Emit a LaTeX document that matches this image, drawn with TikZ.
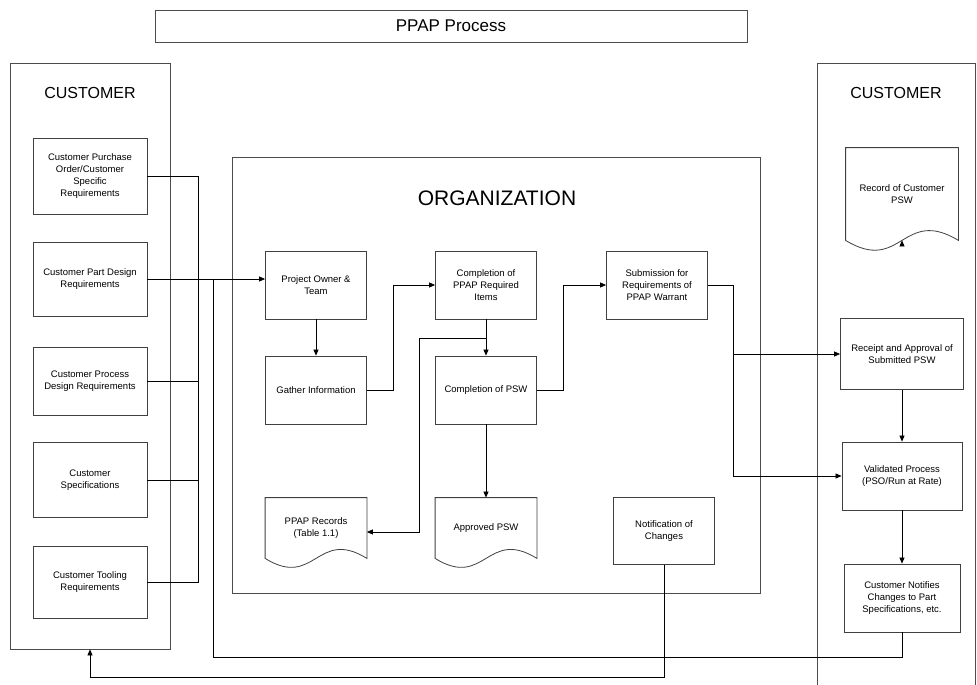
\documentclass[tikz,border=0pt]{standalone}
\usepackage{fontspec}
\setmainfont{Liberation Sans}
\usetikzlibrary{arrows.meta, calc}

\begin{document}
\begin{tikzpicture}[
    x=1pt, y=-1pt,
    box/.style={draw=black!75, line width=0.8pt, fill=white, align=center, inner sep=2pt,
                font=\fontsize{9.5}{12}\selectfont},
    smallbox/.style={box, minimum width=101pt, minimum height=68pt},
    custbox/.style={box, minimum width=114pt, minimum height=72pt},
    docbox/.style={box, draw=none, fill=none, minimum width=101pt, minimum height=60pt},
    docline/.style={draw=black!75, line width=0.8pt},
    frame/.style={draw=black!70, line width=0.8pt},
    heading/.style={font=\fontsize{16}{16}\selectfont},
    link/.style={line width=0.7pt},
    arrowstyle/.style={link, -{Triangle[length=6pt, width=5pt]}},
]
    \useasboundingbox (0,0) rectangle (977,685);
    \clip (0,0) rectangle (977,685);

    % Outer frames
    \node[frame, minimum width=592pt, minimum height=32pt, font=\fontsize{17}{17}\selectfont] (title) at (451,26) {PPAP Process};
    \node[frame, minimum width=160pt, minimum height=586pt] (custL) at (90,356) {};
    \node[frame, minimum width=158pt, minimum height=640pt, anchor=north west] (custR) at (817,63) {};
    \node[frame, minimum width=528pt, minimum height=436pt] (org) at (496,375) {};

    \node[heading] (custLabL) at (90,93) {CUSTOMER};
    \node[heading] (custLabR) at (896,93) {CUSTOMER};
    \node[font=\fontsize{21}{21}\selectfont] (orgLab) at (497,198) {ORGANIZATION};

    % Customer inputs
    \node[custbox, minimum height=76pt] (purchase) at (90,176) {Customer Purchase\\Order/Customer\\Specific\\Requirements};
    \node[custbox, minimum height=74pt] (partDesign) at (90,279) {Customer Part Design\\Requirements};
    \node[custbox, minimum height=68pt] (procDesign) at (90,381) {Customer Process\\Design Requirements};
    \node[custbox, minimum height=75pt] (specs) at (90,480) {Customer\\Specifications};
    \node[custbox] (tooling) at (90,582) {Customer Tooling\\Requirements};

    % Organization steps
    \node[smallbox] (owner) at (316,285) {Project Owner \&\\Team};
    \node[smallbox] (gather) at (316,390) {Gather Information};
    \node[smallbox] (items) at (486,285) {Completion of\\PPAP Required\\Items};
    \node[smallbox] (psw) at (486,390) {Completion of PSW};
    \node[smallbox] (submit) at (657,285) {Submission for\\Requirements of\\PPAP Warrant};
    \node[docbox] (records) at (316,528) {PPAP Records\\(Table 1.1)};
    \node[docbox] (approved) at (486,528) {Approved PSW};
    \node[smallbox, minimum height=67pt] (changes) at (664,531) {Notification of\\Changes};

    % Customer side steps
    \node[docbox, minimum width=112pt, minimum height=92pt] (record) at (902,194) {Record of Customer\\PSW};
    \node[box, minimum width=123pt, minimum height=71pt] (receipt) at (902,354) {Receipt and Approval of\\Submitted PSW};
    \node[box, minimum width=120pt, minimum height=68pt] (validated) at (902,476) {Validated Process\\(PSO/Run at Rate)};
    \node[box, minimum width=116pt, minimum height=68pt] (notify) at (902,598) {Customer Notifies\\Changes to Part\\Specifications, etc.};

    % Document outlines with wavy bottom
    \foreach \d/\hw/\dip in {records/50/31, approved/50/31, record/56/34}
        \draw[docline] (\d.north west) -- (\d.north east) -- (\d.south east)
            .. controls +(-\hw,-\dip) and +(\hw,\dip) .. (\d.south west) -- cycle;

    % Customer inputs to the project owner
    \coordinate (busL) at (198,0);
    \draw[link] (purchase.east) -- (purchase.east -| busL) -- (tooling.east -| busL) -- (tooling.east);
    \draw[link] (procDesign.east) -- (procDesign.east -| busL);
    \draw[link] (specs.east) -- (specs.east -| busL);
    \draw[arrowstyle] (partDesign.east) -- (partDesign.east -| owner.west);

    % Changes fed back
    \coordinate (fbL) at (213,657);
    \draw[link] (notify.south) |- (fbL) -- (fbL |- partDesign.east);
    \coordinate (ret) at (90,677);
    \draw[arrowstyle] (changes.south) |- (ret) -- (custL.south);

    % Inside the organization
    \draw[arrowstyle] (owner) -- (gather);
    \draw[arrowstyle] (gather.east) -- ++(26,0) |- (items.west);
    \draw[arrowstyle] (items) -- (psw);
    \coordinate (split) at ([yshift=-19pt]items.south);
    \draw[arrowstyle] (split) -- ++(-67,0) |- ([yshift=-4pt]records.east);
    \draw[arrowstyle] (psw) -- (approved);
    \draw[arrowstyle] (psw.east) -- ++(26,0) |- (submit.west);

    % Submission to the customer
    \coordinate (busR) at ([xshift=25pt]submit.east);
    \draw[arrowstyle] (submit.east) -- (busR) |- (validated.west);
    \draw[arrowstyle] (busR |- receipt.west) -- (receipt.west);
    \draw[arrowstyle] (receipt) -- (validated);
    \draw[arrowstyle] (validated) -- (notify);
    \draw[link, draw=white, -{Triangle[length=6pt, width=5pt, color=black]}] (receipt.north) -- (record.south);

\end{tikzpicture}
\end{document}
